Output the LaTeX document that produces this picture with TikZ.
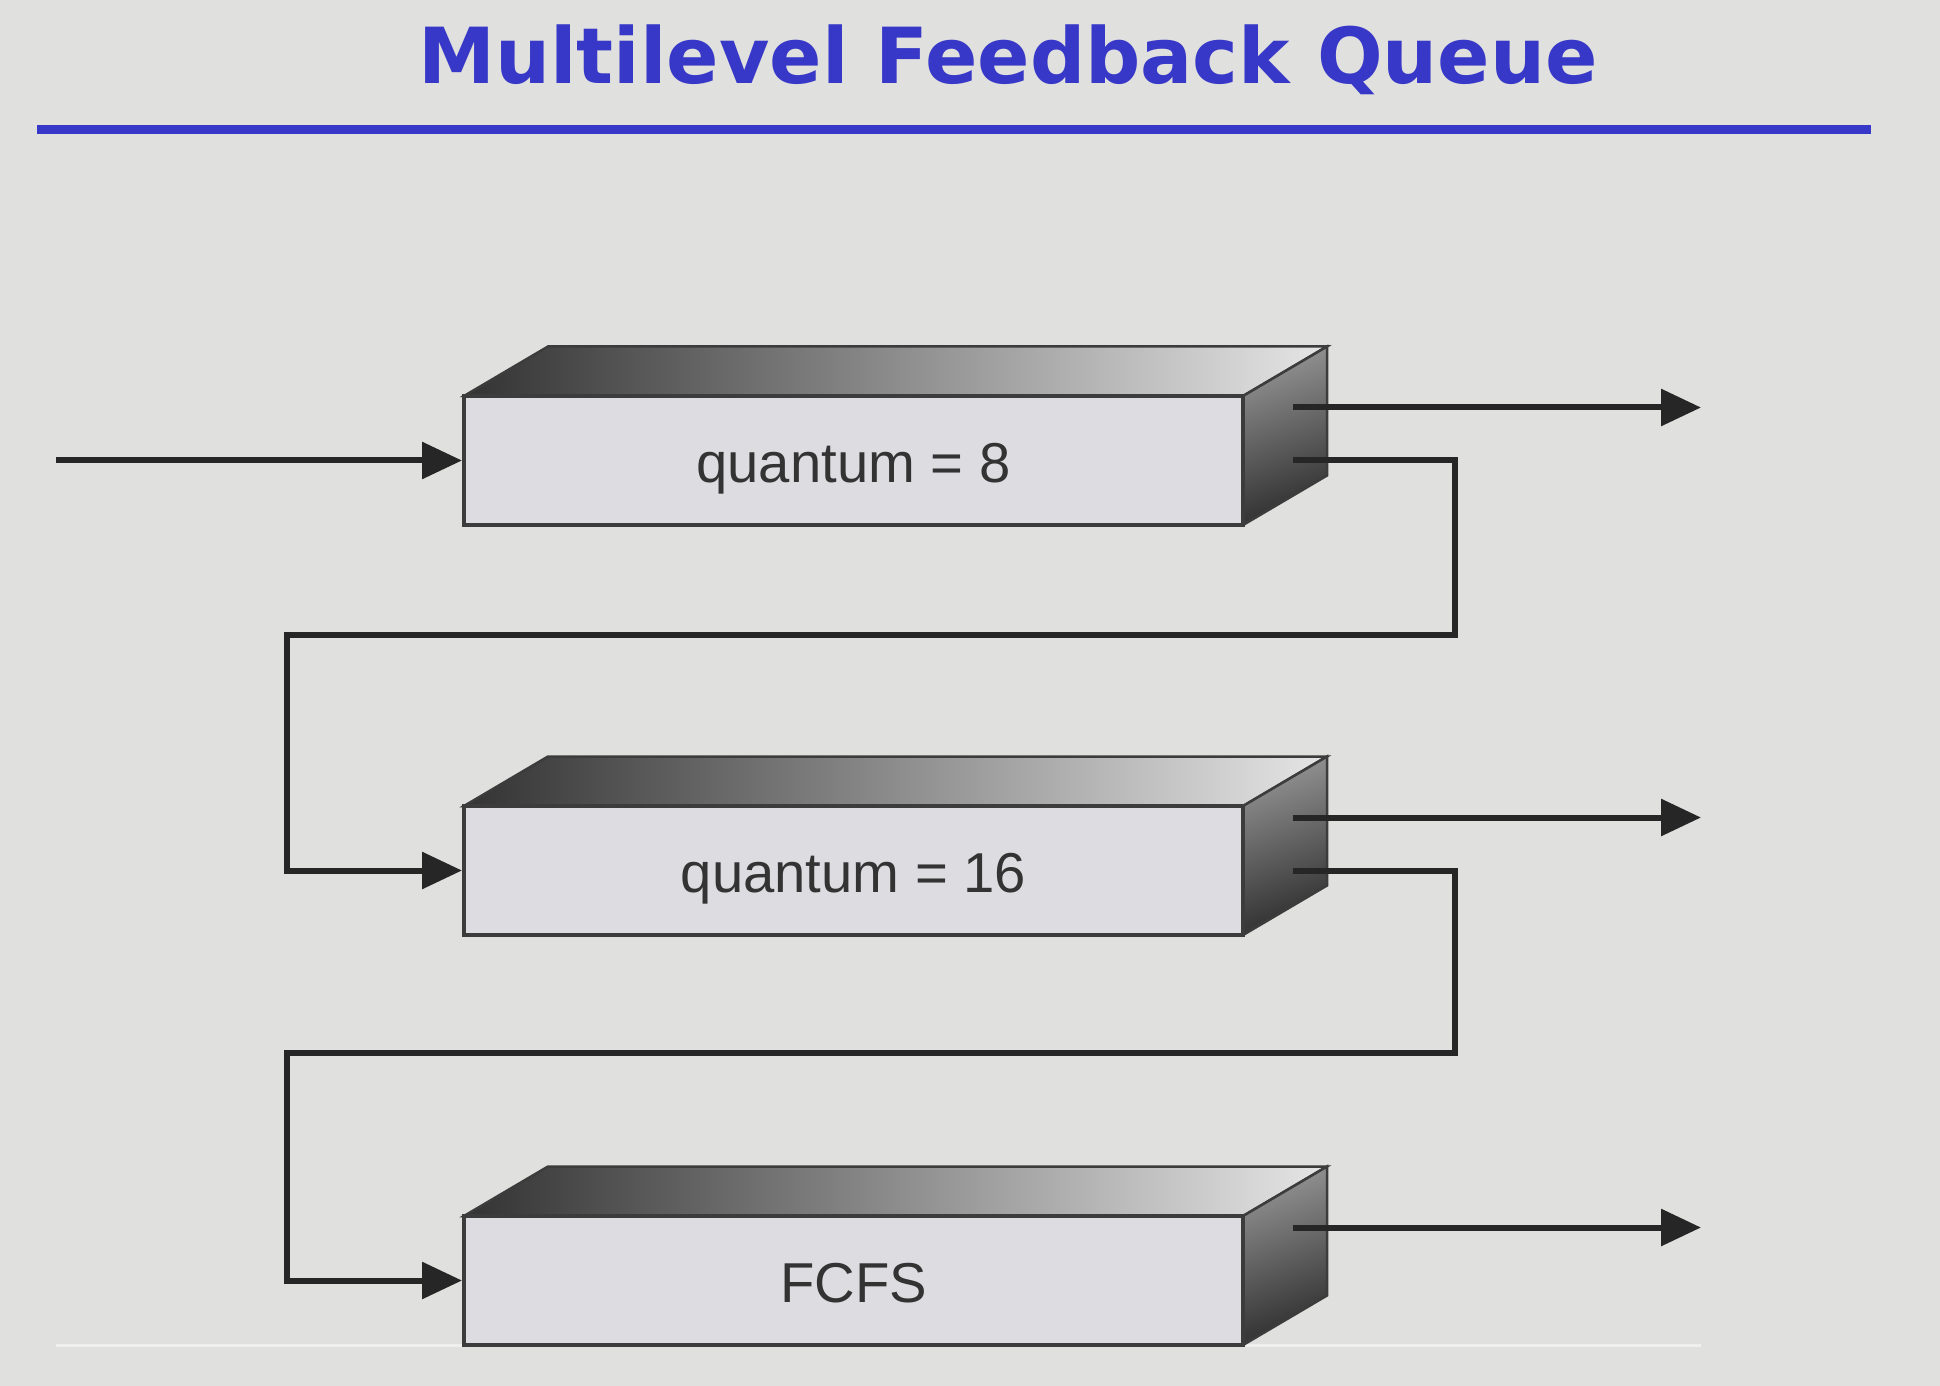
\documentclass[tikz,border=0pt]{standalone}
\usepackage{fontspec}
\setmainfont{Liberation Sans}
\newfontfamily\titlefont{DejaVu Sans}
\usetikzlibrary{arrows.meta}
\definecolor{slidebg}{RGB}{224,224,222}
\definecolor{titleblue}{RGB}{56,56,200}
\definecolor{faceclr}{RGB}{221,220,225}
\definecolor{edgeclr}{RGB}{60,60,60}
\tikzset{
  queue/.style={draw=edgeclr, line width=0.04cm, fill=faceclr, minimum width=7.79cm,
    minimum height=1.29cm, inner sep=0pt, text height=0.5cm, text depth=0.06cm,
    text=black!80, font=\fontsize{16}{19}\selectfont},
  flow/.style={line width=0.06cm, black!85, -{Triangle[length=0.4cm,width=0.36cm]}},
  feed/.style={line width=0.06cm, black!85}
}
\begin{document}
\begin{tikzpicture}[x=1cm,y=1cm]
  \fill[slidebg] (0,0) rectangle (19.40,-13.86);
  \useasboundingbox (0,0) rectangle (19.40,-13.86);
  % title and rule
  \node[anchor=base, text=titleblue, font=\titlefont\bfseries\fontsize{22}{26}\selectfont] (title) at (10.08,-0.84) {Multilevel Feedback Queue};
  \draw[titleblue, line width=0.09cm] (0.37,-1.30) -- (18.71,-1.30);
  \draw[white!50!slidebg, line width=0.03cm] (0.56,-13.45) -- (17.01,-13.45);
  % the three queues
  \foreach \i/\txt/\y in {1/quantum = 8/-4.605, 2/quantum = 16/-8.705, 3/FCFS/-12.805} {
    \draw[edgeclr, line width=0.025cm, left color=black!80, right color=black!10]
      (8.535,\y) ++(-3.895,0.645) -- ++(0.84,0.495) -- ++(7.79,0) -- ++(-0.84,-0.495) -- cycle;
    \draw[edgeclr, line width=0.025cm, top color=black!12, bottom color=black!78, shading angle=20]
      (8.535,\y) ++(3.895,0.645) -- ++(0.84,0.495) -- ++(0,-1.29) -- ++(-0.84,-0.495) -- cycle;
    \node[queue] (q\i) at (8.535,\y) {\txt};
    \coordinate (o\i) at (12.93,\y+0.53);
    \coordinate (e\i) at (17.01,\y+0.53);
    \draw[flow] (o\i) -- (e\i);
  }
  \coordinate (in) at (0.56,-4.605);
  \draw[flow] (in) -- (q1.west);
  % feedback from one level to the next
  \coordinate (f1) at (12.93,-4.605);
  \coordinate (f2) at (12.93,-8.705);
  \draw[feed] (f1) -- (14.55,-4.605) -- (14.55,-6.35) -- (2.87,-6.35) -- (2.87,-8.705);
  \draw[flow] (2.84,-8.705) -- (q2.west);
  \draw[feed] (f2) -- (14.55,-8.705) -- (14.55,-10.53) -- (2.87,-10.53) -- (2.87,-12.805);
  \draw[flow] (2.84,-12.805) -- (q3.west);
\end{tikzpicture}
\end{document}
